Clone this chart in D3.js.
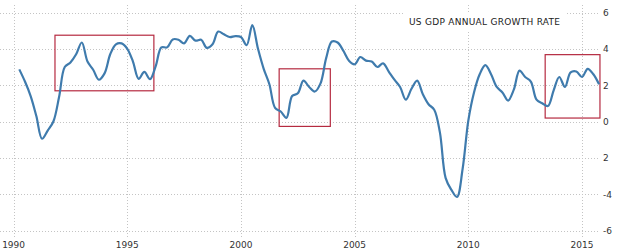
<!DOCTYPE html>
<html>
<head>
<meta charset="utf-8">
<script src="https://d3js.org/d3.v7.min.js"></script>
<style>
  body { margin: 0; background: #fff; }
  text { font-family: "DejaVu Sans", sans-serif; }
</style>
</head>
<body>
<script>
// quarterly y/y growth, 1990 Q1 .. 2015 Q3
var startYear = 1990;
var growth = [
  2.87, 2.2, 1.4, 0.3,      // 1990
  -0.95, -0.5, 0.0, 1.35,   // 1991
  3.0, 3.25, 3.7, 4.35,     // 1992
  3.3, 2.85, 2.3, 2.65,     // 1993
  3.7, 4.25, 4.3, 4.0,      // 1994
  3.3, 2.35, 2.73, 2.33,    // 1995
  3.05, 4.08, 4.08, 4.52,   // 1996
  4.5, 4.3, 4.71, 4.45,     // 1997
  4.5, 4.05, 4.25, 4.95,    // 1998
  4.8, 4.65, 4.7, 4.65,     // 1999
  4.2, 5.3, 4.0, 2.9,       // 2000
  2.05, 0.75, 0.55, 0.2,    // 2001
  1.4, 1.55, 2.25, 1.9,     // 2002
  1.65, 2.1, 3.5, 4.4,      // 2003
  4.35, 3.9, 3.35, 3.15,    // 2004
  3.55, 3.35, 3.3, 3.0,     // 2005
  3.2, 2.75, 2.3, 1.9,      // 2006
  1.2, 1.8, 2.25, 1.5,      // 2007
  0.95, 0.65, -0.6, -3.1,   // 2008
  -3.75, -4.15, -2.6, 0.05, // 2009
  1.6, 2.6, 3.1, 2.6,       // 2010
  1.9, 1.6, 1.15, 1.75,     // 2011
  2.8, 2.45, 2.2, 1.2,      // 2012
  1.0, 0.85, 1.7, 2.45,     // 2013
  1.9, 2.7, 2.75, 2.45,     // 2014
  2.9, 2.6, 2.05            // 2015
];

var yearTicks = [1990, 1995, 2000, 2005, 2010, 2015];
var valueTicks = [6, 4, 2, 0, -2, -4, -6];
var valueLabels = ["6", "4", "2", "0", "2", "-4", "-6"]; // as printed on the chart

// highlighted periods: [from, to, low, high]
var boxes = [
  [1991.82, 1996.17, 1.69, 4.75],
  [2001.68, 2003.93, -0.27, 2.9],
  [2013.38, 2015.79, 0.19, 3.68]
];

var title = "US GDP ANNUAL GROWTH RATE";

window.onload = function(){

    var w = 620, h = 251;

    var svg = d3.select("body")
        .append("svg")
        .attr("width", w)
        .attr("height", h);

    var x = d3.scaleLinear().domain([1990, 2015]).range([13.6, 582]);
    var y = d3.scaleLinear().domain([-6, 6]).range([230.5, 12.5]);

    var data = growth.map(function(v, i){
        return { t: startYear + (i + 1) * 0.25, v: v };
    });

    // horizontal grid
    svg.append("g")
        .selectAll("line")
        .data(valueTicks)
        .enter().append("line")
        .attr("x1", 0).attr("x2", 599)
        .attr("y1", function(d){ return Math.round(y(d)) + 0.5; })
        .attr("y2", function(d){ return Math.round(y(d)) + 0.5; })
        .style("stroke", "#c4c4c4")
        .style("stroke-dasharray", "1,2");

    // vertical grid
    svg.append("g")
        .selectAll("line")
        .data(yearTicks)
        .enter().append("line")
        .attr("x1", function(d){ return Math.round(x(d)) + 0.5; })
        .attr("x2", function(d){ return Math.round(x(d)) + 0.5; })
        .attr("y1", 5).attr("y2", 237)
        .style("stroke", "#c4c4c4")
        .style("stroke-dasharray", "1,2");

    // title on a white patch
    svg.append("rect")
        .attr("x", 405).attr("y", 12)
        .attr("width", 160).attr("height", 18)
        .style("fill", "#fff");

    svg.append("text")
        .attr("x", 409).attr("y", 25)
        .attr("textLength", 151)
        .style("font-size", "9px")
        .style("fill", "#222")
        .text(title);

    // y labels on the right
    svg.append("g")
        .selectAll("text")
        .data(valueTicks)
        .enter().append("text")
        .attr("x", 603)
        .attr("y", function(d){ return y(d) + 3.5; })
        .style("font-size", "9px")
        .style("fill", "#333")
        .text(function(d, i){ return valueLabels[i]; });

    // x labels
    svg.append("g")
        .selectAll("text")
        .data(yearTicks)
        .enter().append("text")
        .attr("x", function(d){ return x(d); })
        .attr("y", 248)
        .attr("text-anchor", "middle")
        .style("font-size", "9px")
        .style("fill", "#333")
        .text(function(d){ return d; });

    // highlight boxes
    svg.append("g")
        .selectAll("rect")
        .data(boxes)
        .enter().append("rect")
        .attr("x", function(d){ return x(d[0]); })
        .attr("y", function(d){ return y(d[3]); })
        .attr("width", function(d){ return x(d[1]) - x(d[0]); })
        .attr("height", function(d){ return y(d[2]) - y(d[3]); })
        .style("fill", "none")
        .style("stroke", "#b52a40")
        .style("stroke-width", 1.2);

    // the growth line
    var line = d3.line()
        .x(function(d){ return x(d.t); })
        .y(function(d){ return y(d.v); })
        .curve(d3.curveCatmullRom.alpha(0.5));

    svg.append("path")
        .datum(data)
        .attr("d", line)
        .style("fill", "none")
        .style("stroke", "#3f7bad")
        .style("stroke-width", 2.2)
        .style("stroke-linejoin", "round");
};
</script>
</body>
</html>
